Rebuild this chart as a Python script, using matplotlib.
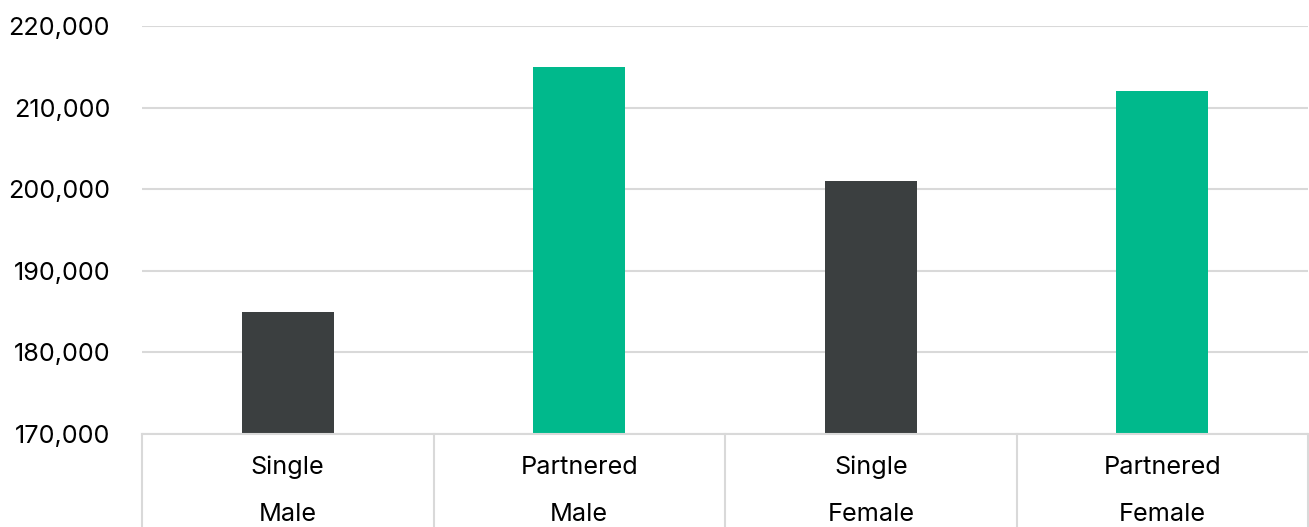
import matplotlib.pyplot as plt
from matplotlib.ticker import FuncFormatter

# data
groups = ["Single", "Partnered", "Single", "Partnered"]
sexes = ["Male", "Male", "Female", "Female"]
values = [185000, 215000, 201000, 212000]
colors = ["#3b3f40", "#00b98c", "#3b3f40", "#00b98c"]
yticks = [170000, 180000, 190000, 200000, 210000, 220000]

plt.rcParams['font.family'] = ['Inter', 'DejaVu Sans']
FS = 18.2

fig = plt.figure(figsize=(13.09, 5.27), dpi=100)
ax = fig.add_axes([142 / 1309, (527 - 434) / 527, (1308 - 142) / 1309, 408 / 527])

x = range(len(values))
ax.bar(x, values, width=0.315, color=colors, zorder=3)

ax.set_xlim(-0.5, len(values) - 0.5)
ax.set_ylim(170000, 220000)
ax.set_yticks(yticks)
ax.yaxis.set_major_formatter(FuncFormatter(lambda v, p: f"{int(v):,}"))
ax.tick_params(axis='y', length=0, pad=23, labelsize=FS, labelcolor='black')
ax.set_xticks([])
ax.grid(axis='y', color='#d9d9d9', linewidth=1.5, zorder=0)
for s in ax.spines.values():
    s.set_visible(False)

# category table below the axis
grid_col = '#d9d9d9'
ax.plot([-0.5, len(values) - 0.5], [0, 0], color=grid_col, lw=1.5,
        transform=ax.get_xaxis_transform(), clip_on=False, zorder=4)
for b in [i - 0.5 for i in range(len(values) + 1)]:
    ax.plot([b, b], [0, -0.3], color=grid_col, lw=1.5,
            transform=ax.get_xaxis_transform(), clip_on=False)
for i, (g, s) in enumerate(zip(groups, sexes)):
    ax.text(i, -0.082, g, ha='center', va='center', fontsize=FS,
            transform=ax.get_xaxis_transform())
    ax.text(i, -0.197, s, ha='center', va='center', fontsize=FS,
            transform=ax.get_xaxis_transform())

plt.savefig("out.png", dpi=100)
plt.close()
